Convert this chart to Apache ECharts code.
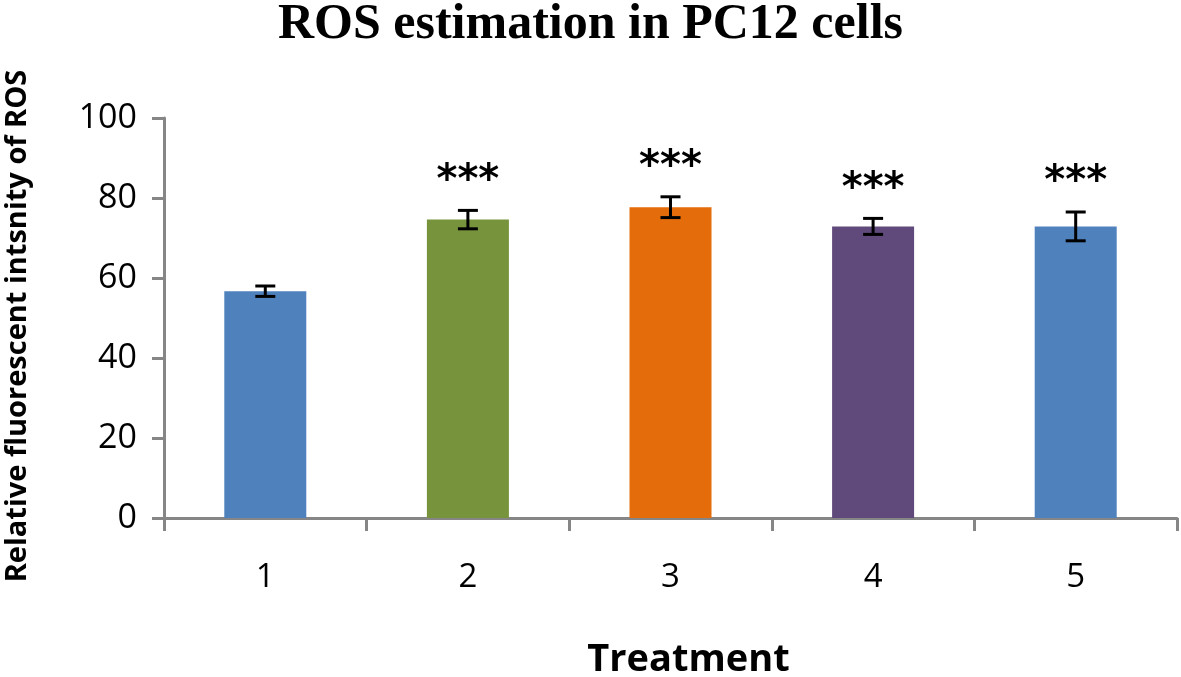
<!DOCTYPE html>
<html>
<head>
<meta charset="utf-8">
<script src="https://cdn.jsdelivr.net/npm/echarts@6/dist/echarts.min.js"></script>
<style>
  html, body { margin: 0; padding: 0; background: #fff; }
  #chart { width: 1181px; height: 677px; }
</style>
</head>
<body>
<div id="chart"></div>
<script>
// data
var categories = ['1', '2', '3', '4', '5'];
var meanValues = [56.7, 74.6, 77.7, 72.9, 72.9];
var errValues = [1.3, 2.3, 2.6, 2.0, 3.6];
var stars = ['', '***', '***', '***', '***'];
var barColors = ['#4F81BD', '#77933C', '#E46C0A', '#604A7B', '#4F81BD'];
var yTicks = [0, 20, 40, 60, 80, 100];

var myChart = echarts.init(document.getElementById('chart'));

var errData = meanValues.map(function (v, i) {
  return [i, v - errValues[i], v + errValues[i], stars[i]];
});

var option = {
  animation: false,
  title: {
    text: 'ROS estimation in PC12 cells',
    left: 'center',
    top: -5,
    textStyle: {
      fontFamily: 'Liberation Serif',
      fontWeight: 'bold',
      fontSize: 50,
      color: '#000'
    }
  },
  grid: {
    left: 164,
    right: 4,
    top: 118,
    bottom: 159,
    outerBoundsMode: 'none'
  },
  xAxis: {
    type: 'category',
    data: categories,
    name: 'Treatment',
    nameLocation: 'middle',
    nameGap: 123,
    nameTextStyle: {
      fontFamily: 'Open Sans',
      fontWeight: 'bold',
      fontSize: 38,
      color: '#000',
      padding: [0, 0, 0, 36]
    },
    axisLine: { lineStyle: { color: '#868686', width: 3 } },
    axisTick: { show: true, length: 13, lineStyle: { color: '#868686', width: 3 } },
    axisLabel: {
      margin: 43,
      fontFamily: 'Open Sans',
      fontSize: 33,
      color: '#000'
    }
  },
  yAxis: {
    type: 'value',
    min: yTicks[0],
    max: yTicks[yTicks.length - 1],
    interval: 20,
    name: 'Relative fluorescent intsnity of ROS',
    nameLocation: 'middle',
    nameGap: 132,
    nameTextStyle: {
      fontFamily: 'Open Sans',
      fontWeight: 'bold',
      fontSize: 29,
      color: '#000',
      padding: [0, 16, 0, 0]
    },
    splitLine: { show: false },
    axisLine: { show: true, lineStyle: { color: '#868686', width: 3 } },
    axisTick: { show: true, length: 12, lineStyle: { color: '#868686', width: 3 } },
    axisLabel: {
      margin: 27,
      fontFamily: 'Open Sans',
      fontSize: 34,
      color: '#000'
    }
  },
  series: [
    {
      type: 'bar',
      barWidth: 82,
      data: meanValues.map(function (v, i) {
        return { value: v, itemStyle: { color: barColors[i] } };
      })
    },
    {
      type: 'custom',
      data: errData,
      z: 10,
      renderItem: function (params, api) {
        var x = api.value(0);
        var low = api.coord([x, api.value(1)]);
        var high = api.coord([x, api.value(2)]);
        var half = 10;
        var st = { stroke: '#000', lineWidth: 3 };
        var children = [
          { type: 'line', shape: { x1: high[0], y1: high[1], x2: low[0], y2: low[1] }, style: st },
          { type: 'line', shape: { x1: high[0] - half, y1: high[1], x2: high[0] + half, y2: high[1] }, style: st },
          { type: 'line', shape: { x1: low[0] - half, y1: low[1], x2: low[0] + half, y2: low[1] }, style: st }
        ];
        var s = api.value(3);
        if (s) {
          children.push({
            type: 'text',
            style: {
              text: s,
              x: high[0],
              y: high[1] - 29,
              align: 'center',
              verticalAlign: 'middle',
              fill: '#000',
              font: 'bold 40px "DejaVu Sans"'
            }
          });
        }
        return { type: 'group', children: children };
      }
    }
  ]
};

myChart.setOption(option);
</script>
</body>
</html>
